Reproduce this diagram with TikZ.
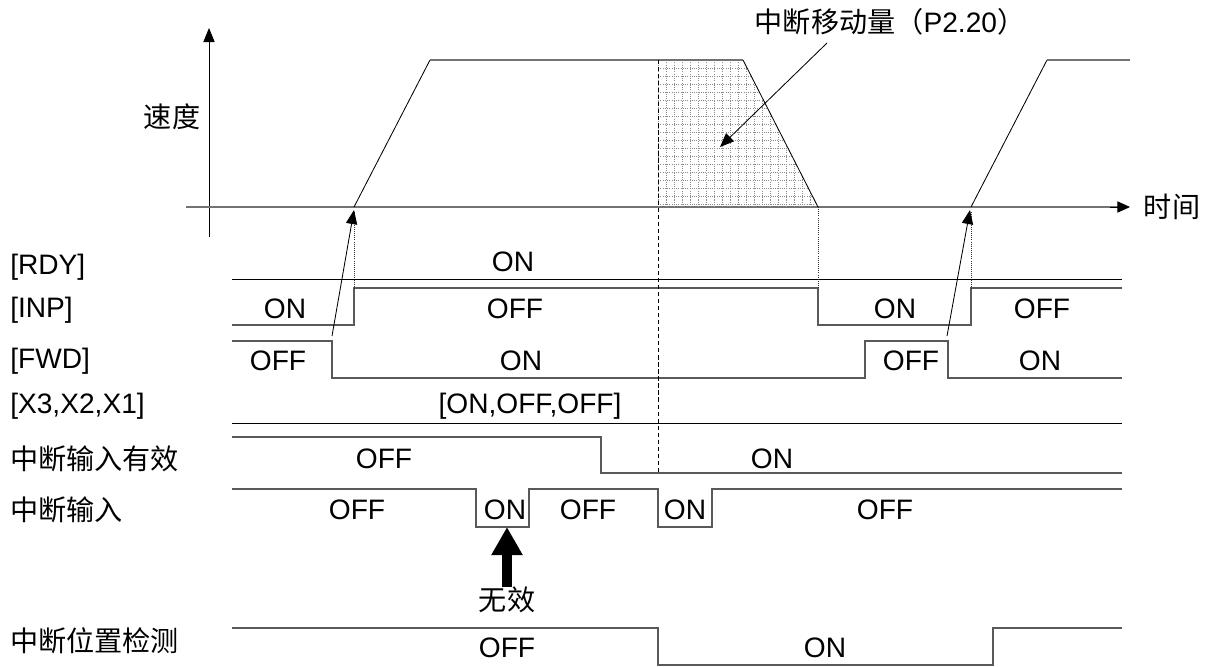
\documentclass[tikz,border=0pt]{standalone}
\usepackage{fontspec}
\setmainfont{Liberation Sans}
\newfontfamily\cjk{Noto Sans CJK SC}
\usetikzlibrary{arrows.meta, positioning}

\begin{document}
\begin{tikzpicture}[x=0.025cm, y=-0.025cm,
        txt/.style={font=\fontsize{20}{24}\selectfont, inner sep=0pt},
        lbl/.style={txt, anchor=west},
        sig/.style={draw=black!65, line width=0.9pt},
        bus/.style={draw=black, line width=0.6pt},
        vel/.style={draw=black!55, line width=1.2pt},
        ramp/.style={draw=black, line width=0.6pt},
        guide/.style={draw=black, line width=0.5pt, dash pattern=on 3pt off 2pt},
        hint/.style={draw=black!80, line width=0.5pt, densely dotted},
        hatch/.style={draw=black!45, line width=0.4pt, dash pattern=on 0.8pt off 0.8pt},
        ptr/.style={draw=black, line width=0.6pt, -{Triangle[length=10pt, width=8pt]}},
        fat/.style={draw=black, line width=7pt, -{Triangle[length=20pt, width=21pt]}},
      ]
        \useasboundingbox (0,0) rectangle (1210,666);

        % speed profile
        \node[txt] (speed) at (172,117) {\cjk 速度};
        \node[txt] (time) at (1172,207) {\cjk 时间};
        \coordinate (o) at (209,207);
        \draw[ptr] (209,237) -- (209,28);
        \draw[vel] (186,207) -- (1122,207);
        \draw[ptr, -{Triangle[length=9pt, width=8pt]}] (1110,207) -- (1130,207);

        \coordinate (v0) at (354,207);
        \coordinate (v1) at (430,60);
        \coordinate (v2) at (743,60);
        \coordinate (v3) at (818,207);
        \coordinate (w0) at (971,207);
        \coordinate (w1) at (1047,60);
        \coordinate (w2) at (1130,60);

        \begin{scope}
          \clip (658,60) -- (v2) -- (v3) -- (658,207) -- cycle;
          \foreach \i in {0,...,20} \draw[hatch] (658+8*\i,60) -- ++(0,147);
          \foreach \j in {0,...,18} \draw[hatch] (658,60+8*\j) -- ++(170,0);
        \end{scope}

        \draw[ramp] (v0) -- (v1);
        \draw[vel] (v1) -- (v2);
        \draw[ramp] (v2) -- (v3);
        \draw[ramp] (w0) -- (w1);
        \draw[vel] (w1) -- (w2);

        \node[txt] (amt) at (890,22) {{\cjk 中断移动量（}P2.20{\cjk ）}};
        \coordinate (amttail) at (827,43);
        \coordinate (amttip) at (720,147);
        \draw[ptr] (amttail) -- (amttip);

        % signal names
        \node[lbl] (rdy) at (10,267) {[RDY]};
        \node[lbl] (inp) at (10,310) {[INP]};
        \node[lbl] (fwd) at (10,361) {[FWD]};
        \node[lbl] (xin) at (10,406) {[X3,X2,X1]};
        \node[lbl] (stopen) at (10,459) {\cjk 中断输入有效};
        \node[lbl] (stopin) at (10,510) {\cjk 中断输入};
        \node[lbl] (stopdet) at (10,641) {\cjk 中断位置检测};

        % waveforms
        \draw[bus] (232,279) -- (1122,279);
        \draw[sig] (232,325) -- (354,325) -- (354,288) -- (818,288) -- (818,325)
                   -- (971,325) -- (971,288) -- (1122,288);
        \draw[sig] (232,341) -- (332,341) -- (332,378) -- (865,378) -- (865,341)
                   -- (948,341) -- (948,378) -- (1122,378);
        \draw[bus] (232,423) -- (1122,423);
        \draw[sig] (232,437) -- (601,437) -- (601,473) -- (1122,473);
        \draw[sig] (232,489) -- (476,489) -- (476,527) -- (529,527) -- (529,489)
                   -- (658,489) -- (658,527) -- (712,527) -- (712,489) -- (1122,489);
        \draw[sig] (232,628) -- (658,628) -- (658,665) -- (993,665) -- (993,628) -- (1122,628);

        % levels
        \node[txt] (rdy1) at (513,262) {ON};
        \node[txt] (inp1) at (285,309) {ON};
        \node[txt] (inp2) at (515,309) {OFF};
        \node[txt] (inp3) at (895,309) {ON};
        \node[txt] (inp4) at (1042,309) {OFF};
        \node[txt] (fwd1) at (278,361) {OFF};
        \node[txt] (fwd2) at (521,361) {ON};
        \node[txt] (fwd3) at (911,361) {OFF};
        \node[txt] (fwd4) at (1040,361) {ON};
        \node[txt] (xin1) at (530,406) {[ON,OFF,OFF]};
        \node[txt] (stopen1) at (384,459) {OFF};
        \node[txt] (stopen2) at (772,459) {ON};
        \node[txt] (stopin1) at (357,510) {OFF};
        \node[txt] (stopin2) at (505,510) {ON};
        \node[txt] (stopin3) at (588,510) {OFF};
        \node[txt] (stopin4) at (685,510) {ON};
        \node[txt] (stopin5) at (885,510) {OFF};
        \node[txt] (stopdet1) at (507,648) {OFF};
        \node[txt] (stopdet2) at (825,648) {ON};

        % timing marks
        \draw[guide] (658,60) -- (658,473);
        \draw[hint] (v3) -- (818,288);
        \draw[hint] (354,212) -- (354,288);
        \draw[hint] (971,212) -- (971,288);
        \coordinate (fwdoff) at (332,336);
        \coordinate (fwdon) at (947,336);
        \draw[ptr] (fwdoff) -- (354,210);
        \draw[ptr] (fwdon) -- (970,210);

        \node[txt] (invalid) at (507,600) {\cjk 无效};
        \coordinate (pulse) at (507,527);
        \draw[fat] (invalid.north) -- (pulse);
      \end{tikzpicture}
\end{document}
